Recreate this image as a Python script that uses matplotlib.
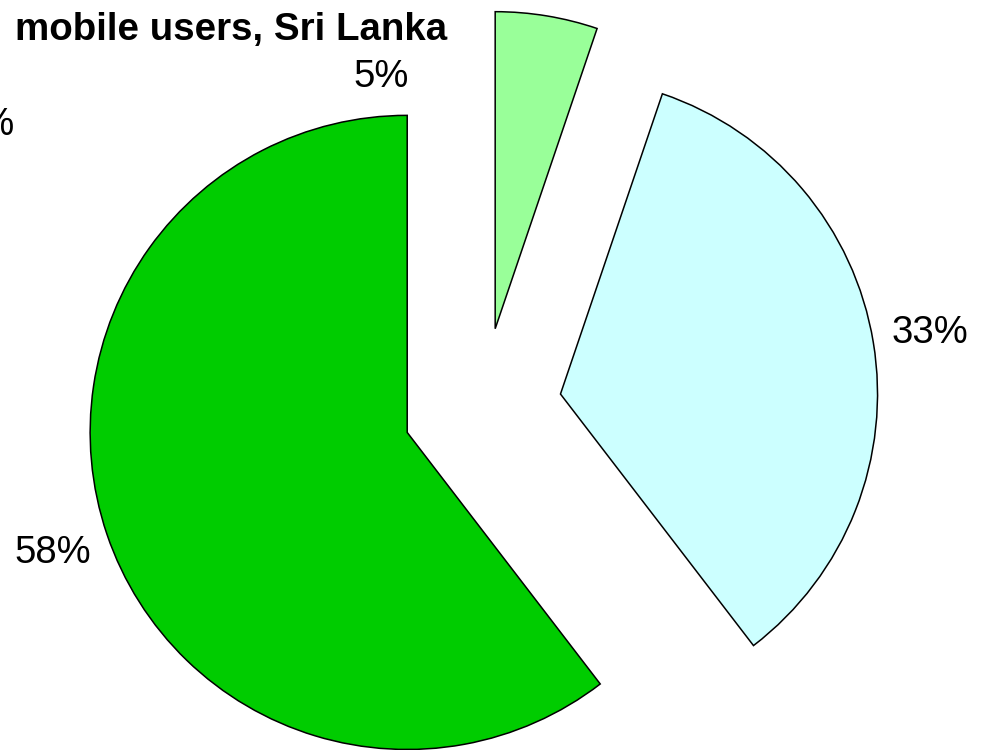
import matplotlib
matplotlib.use("Agg")
import numpy as np
import matplotlib.pyplot as plt

plt.rcParams['font.family'] = ['Liberation Sans', 'DejaVu Sans']

# share of users per group (percent)
values = [5, 33, 58]
labels = ['5%', '33%', '58%']
colors = ['#99FF99', '#CCFFFF', '#00CC00']
title = 'mobile users, Sri Lanka'

explode_frac = 0.25
label_dist = 1.18

fig = plt.figure(figsize=(9.88, 7.5), dpi=100)
ax = fig.add_axes([0, 0, 1, 1])

wedges, _ = ax.pie(values, colors=colors, startangle=90, counterclock=False,
                   explode=[explode_frac] * len(values), radius=1.0,
                   wedgeprops=dict(edgecolor='black', linewidth=1.1))

# data labels placed outside each exploded slice
for w, lab in zip(wedges, labels):
    mid = np.deg2rad((w.theta1 + w.theta2) / 2)
    cx, cy = w.center
    t = ax.text(cx + label_dist * np.cos(mid), cy + label_dist * np.sin(mid), lab,
                ha='center', va='center', fontsize=27.5)
    if lab == '5%':
        # small slice label sits up and to the left, clear of the title
        t.set_position((-0.32, 1.04))

# left-hand label running off the edge
ax.text(-1.475, 0.888, '4%', ha='right', va='center', fontsize=27.5)

ax.set_xlim(-1.521, 1.595)
ax.set_ylim(-1.082, 1.2835)
ax.set_aspect('equal')
ax.axis('off')

fig.text(447 / 988, 1 - 40 / 750, title, ha='right', va='baseline',
         fontsize=27.7, fontweight='bold')

fig.savefig('out.png', dpi=100, facecolor='white')
